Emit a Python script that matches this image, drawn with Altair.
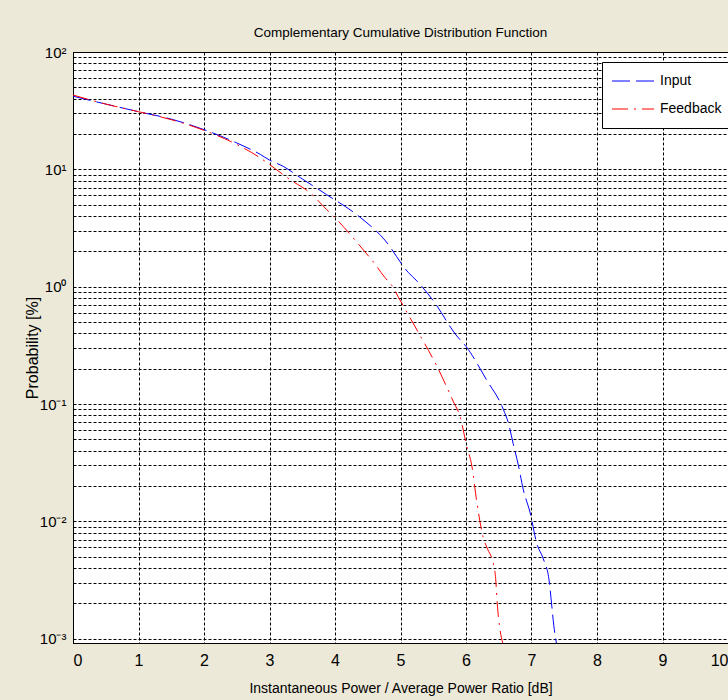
import altair as alt
import pandas as pd

# ---- data ----
input_x = [0, 0.5, 1, 1.5, 2, 2.5, 2.86, 3.0, 3.21, 3.47, 3.87, 4.36, 4.76, 5.12, 5.25, 5.5,
           5.86, 6.0, 6.31, 6.57, 6.65, 6.72, 6.8, 6.875, 6.98, 7.08, 7.18, 7.27, 7.31, 7.34, 7.38]
input_y = [42, 36, 31, 26.8, 21.8, 16.8, 13.4, 12.0, 10.6, 8.5, 6.1, 4.0, 2.5, 1.32, 1.12, 0.76,
           0.38, 0.31, 0.162, 0.09, 0.068, 0.046, 0.03, 0.0186, 0.0118, 0.0065, 0.0048, 0.0031,
           0.0019, 0.0013, 0.00092]

feedback_x = [0, 0.5, 1, 1.5, 2, 2.5, 2.86, 3.0, 3.31, 3.62, 3.87, 4.0, 4.23, 4.36, 4.61, 4.76,
              4.87, 4.97, 5.07, 5.27, 5.55, 5.81, 5.91, 6.01, 6.09, 6.16, 6.26, 6.33, 6.42, 6.45,
              6.48, 6.51, 6.56]
feedback_y = [43, 36, 31, 26.5, 21.5, 16.3, 12.5, 11.0, 8.2, 6.3, 4.56, 3.87, 2.8, 2.3, 1.56, 1.2,
              1.02, 0.81, 0.645, 0.41, 0.213, 0.104, 0.078, 0.044, 0.0295, 0.0153, 0.0074, 0.0058,
              0.0043, 0.0034, 0.0019, 0.0013, 0.00092]

series_names = ["Input", "Feedback"]
series_colors = ["#0000FF", "#FF0000"]
series_dashes = [[18, 6], [16, 6, 2, 6]]

x_ticks = list(range(0, 11))
y_ticks = [m * 10.0 ** e for e in range(-3, 2) for m in range(1, 10)] + [100.0]

df = pd.concat([
    pd.DataFrame({"x": input_x, "y": input_y, "series": "Input", "order": range(len(input_x))}),
    pd.DataFrame({"x": feedback_x, "y": feedback_y, "series": "Feedback", "order": range(len(feedback_x))}),
])

FONT = "Liberation Sans, Arial, sans-serif"

label_expr = ("datum.value == 100 ? '10²' : datum.value == 10 ? '10¹' : datum.value == 1 ? '10⁰' : "
              "datum.value == 0.1 ? '10⁻¹' : datum.value == 0.01 ? '10⁻²' : "
              "datum.value == 0.001 ? '10⁻³' : ''")

legend = alt.Legend(
    title=None, orient="none", legendX=529, legendY=10,
    fillColor="white", strokeColor="black", padding=9,
    symbolType="stroke", symbolSize=1764, symbolStrokeWidth=1.2,
    labelFont=FONT, labelFontSize=14, labelColor="black",
    clipHeight=20, rowPadding=8, labelOffset=5, labelLimit=200,
)

chart = alt.Chart(df).mark_line(strokeWidth=1, clip=True, interpolate="monotone").encode(
    x=alt.X("x:Q",
            scale=alt.Scale(domain=[0, 10], nice=False, zero=False),
            axis=alt.Axis(values=x_ticks, title="Instantaneous Power / Average Power Ratio [dB]",
                          format="d", labelPadding=9, titlePadding=13, labelFontSize=16)),
    y=alt.Y("y:Q",
            scale=alt.Scale(type="log", domain=[0.00092, 100], nice=False),
            axis=alt.Axis(values=y_ticks, labelExpr=label_expr, title="Probability [%]",
                          labelPadding=7, labelFontSize=15, titleFontSize=16,
                          titleX=-41, titleBaseline="middle")),
    color=alt.Color("series:N", scale=alt.Scale(domain=series_names, range=series_colors),
                    sort=series_names, legend=legend),
    strokeDash=alt.StrokeDash("series:N", scale=alt.Scale(domain=series_names, range=series_dashes),
                              sort=series_names, legend=legend),
    order="order:Q",
).properties(
    width=655, height=591,
    title=alt.Title("Complementary Cumulative Distribution Function", font=FONT, fontSize=13.5,
                    fontWeight="normal", color="black", offset=6, anchor="middle"),
    autosize=alt.AutoSizeParams(type="none"),
    padding={"left": 73, "top": 52, "right": 0, "bottom": 57},
).configure(
    background="#ECE9D8",
).configure_view(
    fill="white", stroke="black", strokeWidth=1,
).configure_axis(
    grid=True, gridColor="black", gridDash=[3, 2], gridOpacity=1, gridWidth=1,
    domain=True, domainColor="black", ticks=False,
    labelFont=FONT, labelColor="black",
    titleFont=FONT, titleFontSize=14, titleFontWeight="normal", titleColor="black",
)

chart.save("out.html", embed_options={"renderer": "svg", "actions": False})
